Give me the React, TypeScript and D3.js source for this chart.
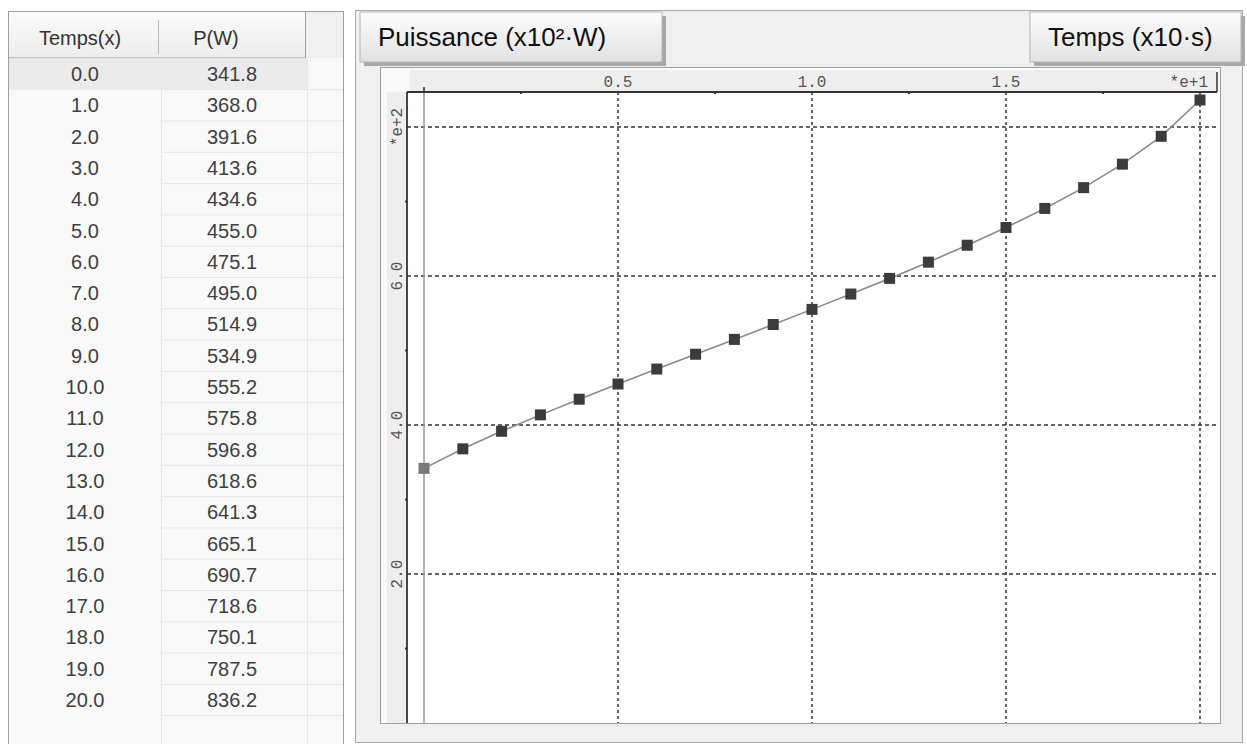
import React from "react";
import * as d3 from "d3";

const temps = [0, 1, 2, 3, 4, 5, 6, 7, 8, 9, 10, 11, 12, 13, 14, 15, 16, 17, 18, 19, 20];
const puissance = [341.8, 368.0, 391.6, 413.6, 434.6, 455.0, 475.1, 495.0, 514.9, 534.9, 555.2, 575.8, 596.8, 618.6, 641.3, 665.1, 690.7, 718.6, 750.1, 787.5, 836.2];
const xMajor = [5, 10, 15, 20];
const xMajorLabels = ["0.5", "1.0", "1.5", "*e+1"];
const xMinor = [2.5, 7.5, 12.5, 17.5];
const yMajor = [200, 400, 600, 800];
const yMajorLabels = ["2.0", "4.0", "6.0", "*e+2"];
const yMinor = [100, 300, 500, 700];
const colHeaders = ["Temps(x)", "P(W)"];
const yTitle = "Puissance (x10²·W)";
const xTitle = "Temps (x10·s)";

const W = 1247;
const H = 744;

const TitleBox = ({ x, y, w, h, label }: { x: number; y: number; w: number; h: number; label: string }) => (
  <g>
    <rect x={x + 4} y={y + 4} width={w} height={h} fill="#a8a8a8" />
    <rect x={x} y={y} width={w} height={h} fill="url(#btnGrad)" stroke="#b4b4b4" />
    <text x={x + 18} y={y + h / 2 + 9} fontFamily="Liberation Sans, Arial, sans-serif" fontSize={26} fill="#111">
      {label}
    </text>
  </g>
);

export default function App() {
  const x = d3.scaleLinear().domain([0, 20]).range([424, 1200]);
  const y = d3.scaleLinear().domain([200, 800]).range([574, 127]);
  const plotL = 407;
  const plotR = 1217;
  const plotT = 92;
  const plotB = 723;

  const pts = temps.map((t, i) => [x(t), y(puissance[i])] as [number, number]);
  const line = d3.line()(pts) || "";

  const rowTop = 58.4;
  const rowH = 31.3;
  const tableFont = "Liberation Sans, Arial, sans-serif";

  return (
    <svg width={W} height={H} style={{ position: "absolute", left: 0, top: 0 }}>
      <defs>
        <linearGradient id="btnGrad" x1="0" y1="0" x2="0" y2="1">
          <stop offset="0" stopColor="#fdfdfd" />
          <stop offset="1" stopColor="#e2e2e2" />
        </linearGradient>
        <linearGradient id="hdrGrad" x1="0" y1="0" x2="0" y2="1">
          <stop offset="0" stopColor="#fbfbfb" />
          <stop offset="1" stopColor="#ededed" />
        </linearGradient>
      </defs>
      <rect x={0} y={0} width={W} height={H} fill="#ffffff" />

      {/* ---------- left table ---------- */}
      <rect x={8.5} y={11.5} width={335} height={740} fill="#f9f9f9" stroke="#a0a0a0" />
      <rect x={9} y={12} width={297} height={46} fill="url(#hdrGrad)" />
      <rect x={306} y={12} width={37} height={46} fill="#f0f0f0" />
      <line x1={9} x2={306} y1={58} y2={58} stroke="#a0a0a0" />
      <line x1={305.5} x2={305.5} y1={12} y2={58} stroke="#a0a0a0" />
      <line x1={158.5} x2={158.5} y1={20} y2={54} stroke="#b8b8b8" />
      <text x={80} y={45} textAnchor="middle" fontFamily={tableFont} fontSize={20} fill="#333">{colHeaders[0]}</text>
      <text x={216} y={45} textAnchor="middle" fontFamily={tableFont} fontSize={20} fill="#333">{colHeaders[1]}</text>
      <rect x={9} y={rowTop} width={298} height={rowH} fill="#ebebeb" />
      {d3.range(temps.length + 2).map((i) => (
        <line key={"rl" + i} x1={161} x2={343} y1={rowTop + rowH * (i + 1)} y2={rowTop + rowH * (i + 1)} stroke="#e6e6e6" />
      ))}
      <line x1={161.5} x2={161.5} y1={rowTop + rowH} y2={H} stroke="#e6e6e6" />
      <line x1={307.5} x2={307.5} y1={rowTop} y2={H} stroke="#e6e6e6" />
      {temps.map((t, i) => (
        <g key={"row" + i}>
          <text x={85} y={rowTop + rowH * i + rowH / 2 + 7} textAnchor="middle" fontFamily={tableFont} fontSize={20} fill="#404040">
            {t.toFixed(1)}
          </text>
          <text x={232} y={rowTop + rowH * i + rowH / 2 + 7} textAnchor="middle" fontFamily={tableFont} fontSize={20} fill="#404040">
            {puissance[i].toFixed(1)}
          </text>
        </g>
      ))}

      {/* ---------- right chart panel ---------- */}
      <rect x={355.5} y={10.5} width={887} height={732} fill="#f0f0f0" stroke="#a8a8a8" />
      <rect x={380.5} y={67.5} width={840} height={656} fill="#fafafa" stroke="#a0a0a0" />
      <rect x={410} y={70} width={plotR - 410} height={plotT - 70} fill="#eeeeee" />
      <rect x={387} y={plotT} width={plotL - 387} height={plotB - plotT} fill="#eeeeee" />
      <rect x={plotL} y={plotT} width={1220 - plotL} height={plotB - plotT} fill="#ffffff" />

      {/* grid */}
      {yMajor.map((v) => (
        <line key={"gy" + v} x1={plotL} x2={plotR} y1={y(v)} y2={y(v)} stroke="#333" strokeWidth={1.5} strokeDasharray="4 3" />
      ))}
      {xMajor.map((v) => (
        <line key={"gx" + v} x1={x(v)} x2={x(v)} y1={plotT} y2={plotB} stroke="#333" strokeWidth={1.5} strokeDasharray="3 3" />
      ))}

      {/* zero line */}
      <line x1={x(0)} x2={x(0)} y1={88} y2={plotB} stroke="#9a9a9a" strokeWidth={1.5} />
      <line x1={x(0)} x2={x(0)} y1={87} y2={plotT} stroke="#333" strokeWidth={1.5} />

      {/* axes */}
      <line x1={plotL} x2={plotR} y1={plotT} y2={plotT} stroke="#333" strokeWidth={1.8} />
      <line x1={plotR} x2={plotR} y1={72} y2={plotT} stroke="#333" strokeWidth={1.5} />
      <line x1={plotL} x2={plotL} y1={plotT} y2={plotB} stroke="#333" strokeWidth={1.8} />
      {xMinor.map((v) => (
        <rect key={"mx" + v} x={x(v) - 1} y={plotT} width={2} height={2} fill="#333" />
      ))}
      {yMinor.map((v) => (
        <rect key={"my" + v} x={plotL - 2} y={y(v) - 1} width={2} height={2} fill="#333" />
      ))}
      {xMajor.map((v, i) => (
        <text
          key={"lx" + v}
          x={i === xMajor.length - 1 ? 1208 : x(v)}
          y={87}
          textAnchor={i === xMajor.length - 1 ? "end" : "middle"}
          fontFamily="Liberation Mono, DejaVu Sans Mono, monospace"
          fontSize={16}
          fill="#555"
        >
          {xMajorLabels[i]}
        </text>
      ))}
      {yMajor.map((v, i) => (
        <text
          key={"ly" + v}
          transform={`translate(402,${y(v)}) rotate(-90)`}
          textAnchor="middle"
          fontFamily="Liberation Mono, DejaVu Sans Mono, monospace"
          fontSize={16}
          fill="#555"
        >
          {yMajorLabels[i]}
        </text>
      ))}

      {/* series */}
      <path d={line} fill="none" stroke="#8a8a8a" strokeWidth={1.6} />
      {pts.map(([px, py], i) => (
        <rect key={"pt" + i} x={px - 5.5} y={py - 5.5} width={11} height={11} fill={i === 0 ? "#7a7a7a" : "#3c3c3c"} />
      ))}

      {/* title boxes */}
      <TitleBox x={360} y={12} w={302} h={50} label={yTitle} />
      <TitleBox x={1030} y={12} w={211} h={50} label={xTitle} />
    </svg>
  );
}
